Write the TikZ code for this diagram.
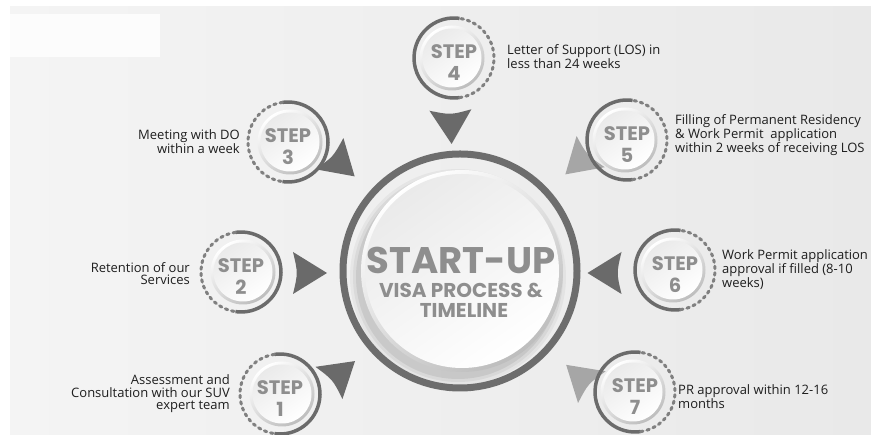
\documentclass[tikz,border=0pt]{standalone}
\usepackage{fontspec}
\setmainfont{Open Sans}
\newfontfamily\popf{Poppins}
\usetikzlibrary{calc}
\definecolor{bgA}{HTML}{F4F4F4}
\definecolor{bgB}{HTML}{E9E9E9}
\definecolor{ringc}{HTML}{6D6D6D}
\definecolor{solidc}{HTML}{6B6B6B}
\definecolor{dashc}{HTML}{808080}
\definecolor{labc}{HTML}{8E8E8E}
\definecolor{txtc}{HTML}{1E1E1E}
\definecolor{tridark}{HTML}{6A6A6A}
\definecolor{trilight}{HTML}{A6A6A6}
\definecolor{bevelc}{HTML}{BDBDBD}
\definecolor{discc}{HTML}{EAEAEA}
\newcommand\mystep[6]{%
  \coordinate (#1) at (#2,#3);
  \coordinate (#1c) at ($(#1)+({(#4+#5)/2}:2)$);
  \draw[solidarc] ($(#1)+(#4:40)$) arc[start angle=#4, end angle=#5, radius=40];
  \draw[dasharc] ($(#1)+(#5:40)$) arc[start angle=#5, end angle=#4+360, radius=40];
  \shade[top color=white, bottom color=bevelc, shading angle=35] (#1c) circle (32.5);
  \shade[top color=discc, bottom color=white, shading angle=35] (#1c) circle (29.5);
  \node[steplab] (#1s) at ($(#1)+(0,6)$) {STEP};
  \node[steplab] (#1n) at ($(#1)+(0,-15)$) {#6};
}
\newcommand\mytri[5]{%
  \coordinate (#1) at (#2,#3);
  \fill[#5, shift={(#1)}, rotate=#4] (17,0) .. controls (0,10.3) .. (-17,21)
     .. controls (-12,0) .. (-17,-21) .. controls (0,-10.3) .. (17,0) -- cycle;
}
\begin{document}
\begin{tikzpicture}[x=1pt,y=1pt,
  desc/.style={font=\fontsize{13}{12.5}\selectfont, text=txtc, inner sep=0pt},
  steplab/.style={font=\popf\bfseries\fontsize{19.5}{20}\selectfont, text=labc, inner sep=0pt},
  midlab/.style={text=labc, inner sep=0pt},
  solidarc/.style={draw=solidc, line width=3.5},
  dasharc/.style={draw=dashc, line width=3, line cap=round, dash pattern=on 2.5pt off 4pt}]
\useasboundingbox[fill=white] (0,0) rectangle (871,435);
\shade[left color=bgA, right color=bgB] (10,0) rectangle (871,428);
\fill[white, opacity=0.8] (10,378) rectangle (160,421);

% central circle
\coordinate (C) at (460,164);
\coordinate (D) at (462,164);
\foreach \r/\o in {108/0.04,105/0.05,102/0.07}
  \fill[black, opacity=\o] ($(D)+(-4,-6)$) circle (\r);
\draw[ringc, line width=7] (C) circle (117);
\shade[top color=white, bottom color=bevelc, shading angle=35] (D) circle (101);
\shade[top color=discc, bottom color=white, shading angle=35] (D) circle (97);
\node[midlab, font=\popf\bfseries\fontsize{37}{37}\selectfont] (t1) at (461,175) {START-UP};
\node[midlab, font=\popf\bfseries\fontsize{20}{20}\selectfont] (t2) at (461,145) {VISA PROCESS \&};
\node[midlab, font=\popf\bfseries\fontsize{20}{20}\selectfont] (t3) at (464,125) {TIMELINE};

% triangles
\mytri{T1}{342}{63}{40}{tridark}
\mytri{T2}{310}{162}{0}{tridark}
\mytri{T3}{342}{270}{-42}{tridark}
\mytri{T4}{451}{308}{-88}{tridark}
\mytri{T5}{578}{272}{222}{trilight}
\mytri{T6}{604.5}{162}{180}{tridark}
\mytri{T7}{579}{59}{139}{trilight}

% steps
\mystep{S1}{280}{41}{-98}{98}{1}
\mystep{S2}{241}{163}{-98}{98}{2}
\mystep{S3}{288}{293}{-98}{98}{3}
\mystep{S4}{454}{377}{82}{278}{4}
\mystep{S5}{627}{295}{82}{278}{5}
\mystep{S6}{675}{165}{82}{278}{6}
\mystep{S7}{635}{43}{82}{278}{7}

% descriptions
\node[desc, anchor=east, align=right] (d1) at (230,41) {Assessment and\\Consultation with our SUV\\expert team};
\node[desc, anchor=east, align=right] (d2) at (190,161.5) {Retention of our\\Services};
\node[desc, anchor=east, align=right] (d3) at (240,293.5) {Meeting with DO\\within a week};
\node[desc, anchor=west, align=left] (d4) at (507,378.5) {Letter of Support (LOS) in\\less than 24 weeks};
\node[desc, anchor=west, align=left] (d5) at (675,300) {Filling of Permanent Residency\\\& Work Permit\ \ application\\within 2 weeks of receiving LOS};
\node[desc, anchor=west, align=left] (d6) at (722,165) {Work Permit application\\approval if filled (8-10\\weeks)};
\node[desc, anchor=west, align=left] (d7) at (678,38) {PR approval within 12-16\\months};
\end{tikzpicture}
\end{document}
